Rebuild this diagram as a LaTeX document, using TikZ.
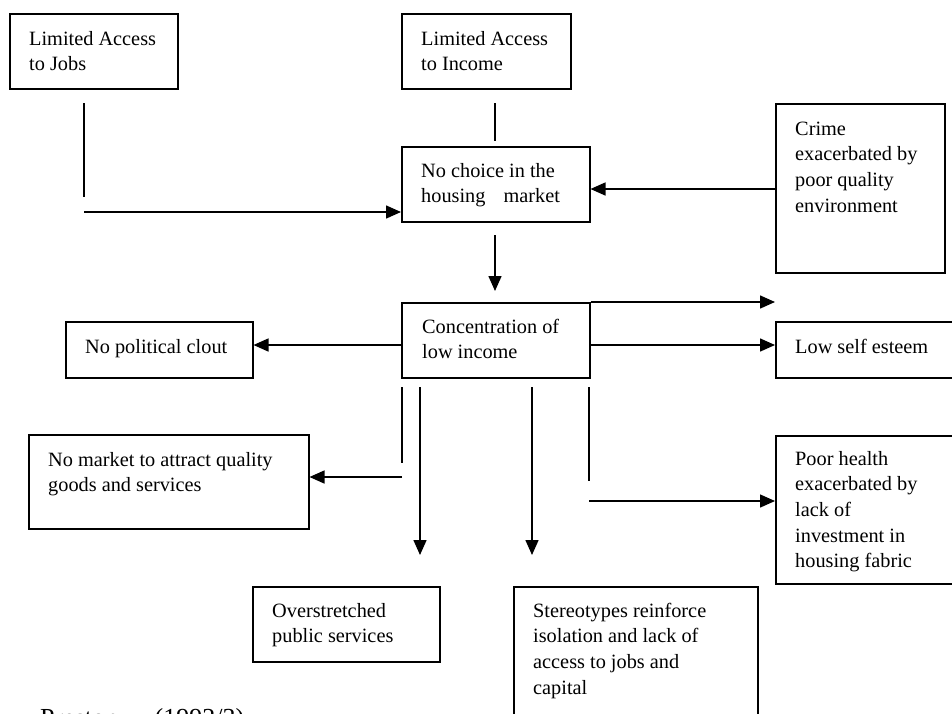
\documentclass[tikz,border=0pt]{standalone}
\usepackage{fontspec}
\setmainfont{Liberation Serif}
\usetikzlibrary{arrows.meta}
\begin{document}
\begin{tikzpicture}[x=1pt,y=-1pt,
  box/.style={draw,line width=1.5pt,inner sep=0pt,anchor=north west},
  txt/.style={anchor=base west,inner sep=0pt,align=left,font=\fontsize{20.3}{25.7}\selectfont},
  conn/.style={line width=1.5pt},
  arr/.style={conn,-{Triangle[length=15pt,width=13pt]}}]
\useasboundingbox (0,0) rectangle (952,713);
% boxes
\node[box,minimum width=168pt,minimum height=75pt] (jobs) at (9,13) {};
\node[box,minimum width=169pt,minimum height=75pt] (income) at (401,13) {};
\node[box,minimum width=188pt,minimum height=75pt] (choice) at (401,146) {};
\node[box,minimum width=169pt,minimum height=169pt] (crime) at (775,103) {};
\node[box,minimum width=188pt,minimum height=75pt] (conc) at (401,302) {};
\node[box,minimum width=187pt,minimum height=56pt] (clout) at (65,321) {};
\node[box,minimum width=190pt,minimum height=56pt] (esteem) at (775,321) {};
\node[box,minimum width=280pt,minimum height=94pt] (market) at (28,434) {};
\node[box,minimum width=190pt,minimum height=148pt] (health) at (775,435) {};
\node[box,minimum width=187pt,minimum height=75pt] (over) at (252,586) {};
\node[box,minimum width=244pt,minimum height=140pt] (stereo) at (513,586) {};
% texts (anchor = baseline of the last line)
\node[txt] (tjobs) at (29,70.7) {Limited Access\\to Jobs};
\node[txt] (tincome) at (421,70.7) {Limited Access\\to Income};
\node[txt] (tchoice) at (421,202.7) {No choice in the\\housing\hspace{13pt} market};
\node[txt] (tcrime) at (795,212.1) {Crime\\exacerbated by\\poor quality\\environment};
\node[txt] (tconc) at (422,358.7) {Concentration of\\low income};
\node[txt] (tclout) at (85,353) {No political clout};
\node[txt] (testeem) at (795,353) {Low self esteem};
\node[txt] (tmarket) at (48,491.7) {No market to attract quality\\goods and services};
\node[txt] (thealth) at (795,567.8) {Poor health\\exacerbated by\\lack of\\investment in\\housing fabric};
\node[txt] (tover) at (272,642.7) {Overstretched\\public services};
\node[txt] (tstereo) at (533,694.1) {Stereotypes reinforce\\isolation and lack of\\access to jobs and\\capital};
\node[txt,font=\fontsize{26}{30}\selectfont] (source) at (40,726) {Preston\hspace{30pt} (1992/3)};
% free connector ends
\coordinate (j1) at (84,103);
\coordinate (j2) at (84,197);
\coordinate (j3) at (84,212);
\coordinate (i1) at (495,103);
\coordinate (i2) at (495,141);
\coordinate (c1) at (495,235);
\coordinate (c2) at (495,291);
\coordinate (top) at (775,302);
\coordinate (e1) at (589,345);
\coordinate (p1) at (401,345);
\coordinate (m1) at (402,387);
\coordinate (m2) at (402,463);
\coordinate (m3) at (402,477);
\coordinate (o1) at (420,387);
\coordinate (o2) at (420,555);
\coordinate (s1) at (532,387);
\coordinate (s2) at (532,555);
\coordinate (h1) at (589,387);
\coordinate (h2) at (589,481);
\coordinate (h3) at (589,501);
% connectors
\draw[conn] (j1) -- (j2);
\draw[arr] (j3) -- (j3 -| choice.west);
\draw[conn] (i1) -- (i2);
\draw[arr] (crime.west |- 0,189) -- (choice.east |- 0,189);
\draw[arr] (c1) -- (c2);
\draw[arr] (conc.north east) -- (top);
\draw[arr] (e1) -- (e1 -| esteem.west);
\draw[arr] (p1) -- (p1 -| clout.east);
\draw[conn] (m1) -- (m2);
\draw[arr] (m3) -- (m3 -| market.east);
\draw[arr] (o1) -- (o2);
\draw[arr] (s1) -- (s2);
\draw[conn] (h1) -- (h2);
\draw[arr] (h3) -- (h3 -| health.west);
\end{tikzpicture}
\end{document}
